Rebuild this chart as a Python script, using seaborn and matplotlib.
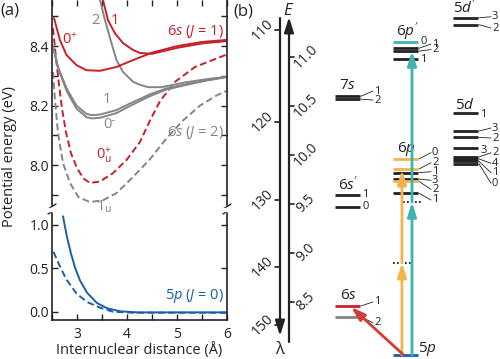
import matplotlib
matplotlib.use("Agg")
import matplotlib.pyplot as plt
import matplotlib.ticker as mticker
import seaborn as sns

# ---------------- (a) potential curves (R in Å, E in eV) ----------------
# upper window (6s manifold)
r_0p = [2.54, 2.66, 2.79, 2.99, 3.19, 3.46, 3.79, 4.12, 4.5, 5.0, 5.5, 6.0]
e_0p = [8.494, 8.42, 8.37, 8.336, 8.319, 8.317, 8.33, 8.353, 8.378, 8.40, 8.414, 8.421]

r_1r = [3.52, 3.62, 3.76, 3.92, 4.12, 4.26, 4.5, 5.0, 5.5, 6.0]
e_1r = [8.555, 8.487, 8.443, 8.41, 8.387, 8.377, 8.374, 8.394, 8.409, 8.417]

r_2g = [3.46, 3.56, 3.69, 3.79, 3.92, 4.12, 4.26, 4.42, 4.69, 5.16, 5.6, 6.0]
e_2g = [8.555, 8.487, 8.41, 8.353, 8.313, 8.28, 8.27, 8.262, 8.262, 8.278, 8.289, 8.297]

r_1g = [2.52, 2.62, 2.8, 2.99, 3.19, 3.3, 3.46, 3.79, 4.12, 4.46, 4.79, 5.19, 5.59, 6.0]
e_1g = [8.40, 8.33, 8.255, 8.2, 8.172, 8.168, 8.17, 8.185, 8.212, 8.238, 8.258, 8.272, 8.286, 8.297]
e_0m = [8.40, 8.325, 8.247, 8.19, 8.161, 8.157, 8.159, 8.175, 8.204, 8.232, 8.254, 8.27, 8.284, 8.296]

r_0u = [2.52, 2.58, 2.64, 2.70, 2.78, 2.88, 3.0, 3.13, 3.26, 3.46, 3.72, 3.99, 4.26, 4.46, 4.66, 4.96, 5.36, 6.0]
e_0u = [8.46, 8.36, 8.27, 8.19, 8.11, 8.04, 7.99, 7.955, 7.94, 7.945, 7.973, 8.017, 8.078, 8.15, 8.215, 8.28, 8.33, 8.372]

r_1u = [2.52, 2.56, 2.62, 2.72, 2.86, 3.03, 3.26, 3.52, 3.79, 4.12, 4.46, 4.79, 5.12, 5.46, 5.8, 6.0]
e_1u = [8.313, 8.218, 8.108, 8.007, 7.94, 7.892, 7.876, 7.882, 7.906, 7.96, 8.02, 8.09, 8.15, 8.20, 8.235, 8.25]

# lower window (5p ground state)
r_5p = [2.72, 2.80, 2.88, 2.96, 3.06, 3.2, 3.4, 3.6, 3.86, 4.2, 5.0, 6.0]
e_5p = [1.10, 0.86, 0.67, 0.51, 0.36, 0.22, 0.10, 0.04, 0.005, -0.008, -0.008, -0.008]
r_5p_d = [2.53, 2.66, 2.79, 2.99, 3.19, 3.46, 3.72, 4.12, 5.0, 6.0]
e_5p_d = [0.69, 0.52, 0.37, 0.21, 0.115, 0.046, 0.0, -0.012, -0.012, -0.012]

# ---------------- (b) level scheme, energies in eV ----------------
e_7s = [10.60, 10.57]
j_7s = ["1", "2"]
e_6s2 = [9.59, 9.47]
j_6s2 = ["1", "0"]
e_6s = [8.46, 8.35]
j_6s = ["1", "2"]
e_6p = [9.96, 9.857, 9.82, 9.755, 9.73, 9.61]
j_6p = ["0", "2", "1", "3", "2", "1"]
e_6p2 = [11.15, 11.09, 11.06, 10.98]
j_6p2 = ["0", "1", "2", "1"]
e_5d = [10.43, 10.245, 10.18, 10.07, 9.98, 9.96, 9.935, 9.91]
j_5d = ["1", "3", "2", "3", "2", "4", "1", "0"]
e_5d2 = [11.40, 11.33]
j_5d2 = ["3", "2"]
e_ground = 7.96
e_virtual = [8.90, 9.52]
lam_ticks = [110, 120, 130, 140, 150]
e_ticks = [8.5, 9.0, 9.5, 10.0, 10.5, 11.0]

RED = "#c8202b"
GRAY = "#858585"
BLUE = "#1b5fa6"
ORANGE = "#f6b24f"
CYAN = "#3cb4b3"
INK = "#222222"

sns.set_style("ticks")
plt.rcParams.update({
    "font.family": ["Open Sans", "DejaVu Sans"],
    "mathtext.fontset": "custom",
    "mathtext.rm": "Open Sans",
    "mathtext.it": "Open Sans:italic",
    "mathtext.bf": "Open Sans:bold",
    "axes.edgecolor": INK,
    "axes.linewidth": 1.2,
    "xtick.color": INK,
    "ytick.color": INK,
    "text.color": INK,
})

fig = plt.figure(figsize=(5.0, 3.59), dpi=100)
ax_top = fig.add_axes([0.104, 0.429, 0.35, 0.571])
ax_bot = fig.add_axes([0.104, 0.1086, 0.35, 0.298])


def curve(ax, r, e, color, dashed=False):
    sns.lineplot(x=r, y=e, ax=ax, color=color, lw=1.4, sort=False, estimator=None,
                 linestyle=(0, (3.5, 1.8)) if dashed else "-")


curve(ax_top, r_1u, e_1u, GRAY, dashed=True)
curve(ax_top, r_0u, e_0u, RED, dashed=True)
curve(ax_top, r_1g, e_0m, GRAY)
curve(ax_top, r_1g, e_1g, GRAY)
curve(ax_top, r_2g, e_2g, GRAY)
curve(ax_top, r_0p, e_0p, RED)
curve(ax_top, r_1r, e_1r, RED)
curve(ax_bot, r_5p_d, e_5p_d, BLUE, dashed=True)
curve(ax_bot, r_5p, e_5p, BLUE)

for ax in (ax_top, ax_bot):
    ax.set_xlim(2.5, 6.0)
    ax.set_xlabel("")
    ax.set_ylabel("")
    ax.xaxis.set_major_locator(mticker.MultipleLocator(1))
    ax.xaxis.set_minor_locator(mticker.MultipleLocator(0.5))
    ax.tick_params(which="both", direction="in", length=4, width=1.0, right=True,
                   labelsize=10, pad=2)

ax_top.set_ylim(7.866, 8.555)
ax_top.yaxis.set_major_locator(mticker.MultipleLocator(0.2))
ax_top.yaxis.set_minor_locator(mticker.MultipleLocator(0.1))
ax_top.yaxis.set_major_formatter(mticker.FormatStrFormatter("%.1f"))
ax_top.spines["bottom"].set_visible(False)
ax_top.spines["top"].set_visible(False)
ax_top.tick_params(which="both", axis="x", top=True, bottom=False, labelbottom=False)

ax_bot.set_ylim(-0.096, 1.138)
ax_bot.yaxis.set_major_locator(mticker.MultipleLocator(0.5))
ax_bot.yaxis.set_major_formatter(mticker.FormatStrFormatter("%.1f"))
ax_bot.spines["top"].set_visible(False)
ax_bot.tick_params(which="both", axis="x", top=False, pad=5)
ax_bot.set_xlabel("Internuclear distance (Å)", fontsize=10.5, labelpad=0)

fig.text(0.02, 0.565, "Potential energy (eV)", rotation=90, ha="center", va="center",
         fontsize=10.5)

# broken-axis marks
W, H = 500.0, 359.0
for xs in (52, 227):
    fig.patches.append(plt.Rectangle(((xs - 5) / W, 1 - 211 / H), 10 / W, 3 / H,
                                     transform=fig.transFigure, color="white", zorder=3))
    for yc in (206.5, 211.5):
        fig.lines.append(plt.Line2D([(xs - 4) / W, (xs + 4) / W],
                                    [1 - (yc + 2.5) / H, 1 - (yc - 2.5) / H],
                                    transform=fig.transFigure, color=INK, lw=1.0))

lab = dict(fontsize=10.5, ha="center", va="center")
ax_top.text(2.86, 8.42, r"0$^{+}$", color=RED, **lab)
ax_top.text(3.36, 8.487, "2", color=GRAY, **lab)
ax_top.text(3.76, 8.487, "1", color=RED, **lab)
ax_top.text(5.93, 8.45, r"6$\mathit{s}$ ($\mathit{J}$ = 1)", color=RED, fontsize=10.5,
            ha="right", va="center")
ax_top.text(3.6, 8.222, "1", color=GRAY, **lab)
ax_top.text(3.6, 8.137, "0", color=GRAY, **lab)
ax_top.text(3.71, 8.152, "-", color=GRAY, fontsize=8, ha="center", va="center",
            family=["DejaVu Sans"], zorder=5)
ax_top.text(3.54, 8.034, r"0$^{+}_{\mathrm{u}}$", color=RED, **lab)
ax_top.text(5.93, 8.108, r"6$\mathit{s}$ ($\mathit{J}$ = 2)", color=GRAY, fontsize=10.5,
            ha="right", va="center")
ax_top.text(3.54, 7.86, r"1$_{\mathrm{u}}$", color=GRAY, clip_on=False, zorder=5, **lab)
ax_bot.text(5.93, 0.18, r"5$\mathit{p}$ ($\mathit{J}$ = 0)", color=BLUE, fontsize=10.5,
            ha="right", va="center")

fig.text(0.0, 0.972, "(a)", fontsize=12, ha="left", va="center")
fig.text(0.466, 0.967, "(b)", fontsize=12, ha="left", va="center")

# ---------------- (b) ----------------
ax_b = fig.add_axes([0.5, 0.0, 0.5, 1.0])
ax_b.set_xlim(250, 500)
ax_b.set_ylim(7.918, 11.582)
ax_b.axis("off")


def py(p):
    # pixel row -> energy in this panel
    return 11.0 - (p - 57) / 98.0


# wavelength and energy axes
X_LAM, X_E = 280, 289
axis_arrow = dict(arrowstyle="-|>,head_length=0.7,head_width=0.22", lw=1.6,
                  color=INK, shrinkA=0, shrinkB=0, mutation_scale=13)
ax_b.annotate("", xy=(X_LAM, py(336)), xytext=(X_LAM, py(18)), arrowprops=axis_arrow)
ax_b.annotate("", xy=(X_E, py(17)), xytext=(X_E, py(342)), arrowprops=axis_arrow)
for lam in lam_ticks:
    e = 1239.84 / lam
    ax_b.plot([X_LAM - 5, X_LAM], [e, e], color=INK, lw=1.2)
    ax_b.text(263, e, str(lam), rotation=45, ha="center", va="center", fontsize=10)
for e in e_ticks:
    ax_b.plot([X_E, X_E + 5], [e, e], color=INK, lw=1.2)
    ax_b.text(306, e, f"{e:.1f}", rotation=45, ha="center", va="center", fontsize=10)
ax_b.text(X_E, py(11), r"$\mathit{E}$", ha="center", va="center", fontsize=12)
ax_b.text(X_LAM, py(350), "λ", ha="center", va="center", fontsize=12)

COL_S, COL_P, COL_D = (335, 360), (393, 418), (453, 478)


def levels(col, energies, colors):
    ax_b.hlines(energies, col[0], col[1], colors=colors, lw=2.0, zorder=3)


def jlabels(col, energies, js, label_e, joined, gap=13):
    for e, j, le, c in zip(energies, js, label_e, joined):
        if c:
            ax_b.plot([col[1] + 1, col[1] + gap], [e, le], color=INK, lw=0.6)
            ax_b.text(col[1] + gap + 1, le, j, fontsize=8, ha="left", va="center")
        else:
            ax_b.text(col[1] + 2.5, le, j, fontsize=8, ha="left", va="center")


levels(COL_S, e_7s, INK)
jlabels(COL_S, e_7s, j_7s, [py(91), py(100)], [True, True])
levels(COL_S, e_6s2, INK)
jlabels(COL_S, e_6s2, j_6s2, [py(195), py(207)], [False, False])
levels(COL_S, e_6s, [RED, GRAY])
jlabels(COL_S, e_6s, j_6s, [py(302), py(323)], [True, True])

levels(COL_P, e_6p, [ORANGE, ORANGE, INK, INK, ORANGE, INK])
jlabels(COL_P, e_6p, j_6p, [py(152.7), py(162.7), py(171.7), py(180.3), py(189.3), py(200)],
        [True] * 6)
levels(COL_P, e_6p2, [CYAN, INK, INK, INK])
jlabels(COL_P, e_6p2, j_6p2, [py(41.7), py(44), py(49.5), py(59.3)],
        [False, True, True, False])
levels(COL_P, [e_ground], [BLUE])

levels(COL_D, e_5d, INK)
jlabels(COL_D, e_5d, j_5d,
        [py(114), py(128), py(138), py(150.5), py(152.7), py(163.3), py(172.7), py(183.3)],
        [False, True, True, False, True, True, True, True])
levels(COL_D, e_5d2, INK)
jlabels(COL_D, e_5d2, j_5d2, [py(16.7), py(28)], [True, True])

grp = dict(fontsize=11, ha="center", va="center")
ax_b.text(347, py(85), r"7$\mathit{s}$", **grp)
ax_b.text(348, py(185), r"6$\mathit{s}'$", **grp)
ax_b.text(348, py(296), r"6$\mathit{s}$", **grp)
ax_b.text(406, py(149), r"6$\mathit{p}$", **grp)
ax_b.text(407, py(32), r"6$\mathit{p}'$", **grp)
ax_b.text(465, py(105), r"5$\mathit{d}$", **grp)
ax_b.text(465, py(8), r"5$\mathit{d}'$", **grp)
ax_b.text(427, py(349), r"5$\mathit{p}$", **grp)

# virtual levels of the two-photon paths
ax_b.plot([393, 412], [e_virtual[0]] * 2, color=INK, lw=1.3, ls=(0, (1, 1.2)))
ax_b.plot([403, 422], [e_virtual[1]] * 2, color=INK, lw=1.3, ls=(0, (1, 1.2)))

arr = dict(arrowstyle="-|>,head_length=0.7,head_width=0.22", lw=2.0, shrinkA=0,
           shrinkB=0, mutation_scale=12)
ax_b.annotate("", xy=(402, e_virtual[0]), xytext=(402, e_ground),
              arrowprops=dict(color=ORANGE, **arr))
ax_b.annotate("", xy=(402, e_6p[1] - 0.01), xytext=(402, e_virtual[0]),
              arrowprops=dict(color=ORANGE, **arr))
ax_b.annotate("", xy=(412, e_virtual[1]), xytext=(412, e_ground),
              arrowprops=dict(color=CYAN, **arr))
ax_b.annotate("", xy=(412, e_6p2[2]), xytext=(412, e_virtual[1]),
              arrowprops=dict(color=CYAN, **arr))
ax_b.annotate("", xy=(351, e_6s[0] - 0.01), xytext=(403, e_ground + 0.005),
              arrowprops=dict(color="#d63b3b", **arr))

fig.savefig("out.png", dpi=100)
